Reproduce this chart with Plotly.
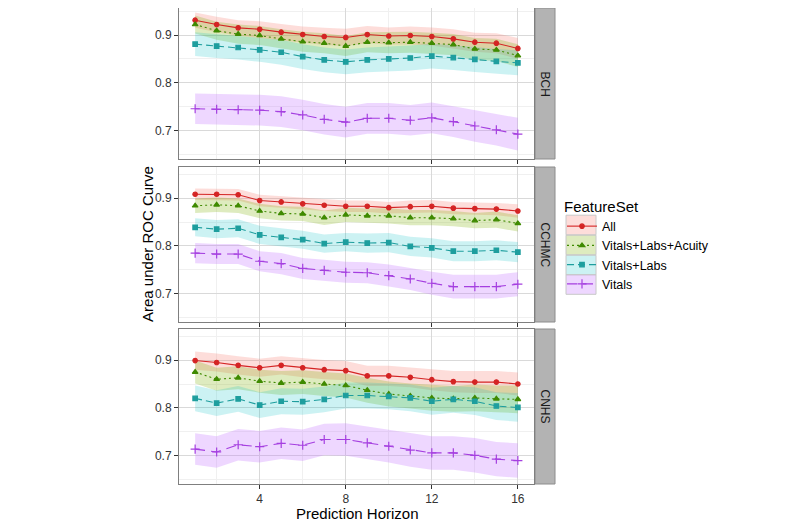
import plotly.graph_objects as go

x = list(range(1, 17))
facets = ["BCH", "CCHMC", "CNHS"]
series = ["All", "Vitals+Labs+Acuity", "Vitals+Labs", "Vitals"]

# ---- BCH ----
bch_all = [0.931, 0.922, 0.915, 0.912, 0.906, 0.901, 0.897, 0.895, 0.901, 0.898, 0.899, 0.897, 0.892, 0.885, 0.883, 0.872]
bch_vla = [0.922, 0.909, 0.902, 0.899, 0.892, 0.886, 0.883, 0.877, 0.885, 0.884, 0.885, 0.883, 0.880, 0.871, 0.869, 0.857]
bch_vl = [0.881, 0.877, 0.874, 0.869, 0.864, 0.855, 0.848, 0.844, 0.848, 0.850, 0.852, 0.856, 0.853, 0.849, 0.845, 0.842]
bch_v = [0.746, 0.745, 0.744, 0.743, 0.740, 0.733, 0.724, 0.718, 0.726, 0.726, 0.722, 0.727, 0.719, 0.710, 0.702, 0.693]
bch_all_hw = [0.016, 0.016, 0.016, 0.017, 0.017, 0.017, 0.018, 0.018, 0.018, 0.018, 0.019, 0.019, 0.020, 0.020, 0.021, 0.022]
bch_vla_hw = [0.019, 0.019, 0.020, 0.020, 0.020, 0.021, 0.021, 0.021, 0.021, 0.022, 0.022, 0.022, 0.022, 0.023, 0.023, 0.024]
bch_vl_hw = [0.025, 0.025, 0.025, 0.025, 0.026, 0.026, 0.026, 0.026, 0.026, 0.026, 0.026, 0.026, 0.026, 0.026, 0.026, 0.026]
bch_v_hw = [0.032, 0.032, 0.032, 0.032, 0.032, 0.032, 0.032, 0.032, 0.032, 0.032, 0.032, 0.032, 0.032, 0.033, 0.033, 0.034]

# ---- CCHMC ----
cch_all = [0.908, 0.908, 0.907, 0.895, 0.892, 0.888, 0.885, 0.883, 0.883, 0.880, 0.882, 0.883, 0.879, 0.878, 0.877, 0.873]
cch_vla = [0.884, 0.886, 0.884, 0.873, 0.868, 0.867, 0.859, 0.865, 0.863, 0.863, 0.859, 0.859, 0.857, 0.853, 0.855, 0.847]
cch_vl = [0.839, 0.835, 0.837, 0.823, 0.818, 0.813, 0.805, 0.808, 0.806, 0.807, 0.799, 0.796, 0.789, 0.789, 0.791, 0.787]
cch_v = [0.785, 0.783, 0.783, 0.768, 0.763, 0.753, 0.749, 0.745, 0.744, 0.738, 0.731, 0.722, 0.715, 0.715, 0.715, 0.720]
cch_all_hw = [0.012, 0.012, 0.012, 0.012, 0.012, 0.012, 0.012, 0.012, 0.012, 0.012, 0.013, 0.013, 0.013, 0.013, 0.013, 0.014]
cch_vla_hw = [0.015, 0.015, 0.015, 0.015, 0.015, 0.015, 0.015, 0.015, 0.015, 0.016, 0.016, 0.016, 0.016, 0.016, 0.017, 0.017]
cch_vl_hw = [0.019, 0.019, 0.019, 0.019, 0.019, 0.019, 0.019, 0.019, 0.020, 0.020, 0.020, 0.020, 0.021, 0.021, 0.021, 0.021]
cch_v_hw = [0.021, 0.021, 0.021, 0.021, 0.022, 0.022, 0.022, 0.022, 0.022, 0.023, 0.023, 0.024, 0.025, 0.025, 0.025, 0.025]

# ---- CNHS ----
cnh_all = [0.899, 0.895, 0.889, 0.884, 0.889, 0.884, 0.880, 0.878, 0.867, 0.867, 0.864, 0.859, 0.855, 0.854, 0.854, 0.850]
cnh_vla = [0.875, 0.860, 0.863, 0.856, 0.852, 0.854, 0.850, 0.847, 0.837, 0.829, 0.825, 0.821, 0.819, 0.821, 0.819, 0.818]
cnh_vl = [0.820, 0.810, 0.819, 0.806, 0.814, 0.813, 0.818, 0.826, 0.826, 0.824, 0.821, 0.814, 0.818, 0.814, 0.804, 0.801]
cnh_v = [0.714, 0.708, 0.723, 0.719, 0.726, 0.722, 0.734, 0.734, 0.727, 0.720, 0.712, 0.706, 0.706, 0.701, 0.693, 0.690]
cnh_all_hw = [0.019, 0.019, 0.019, 0.019, 0.019, 0.020, 0.020, 0.020, 0.021, 0.021, 0.021, 0.022, 0.022, 0.023, 0.023, 0.024]
cnh_vla_hw = [0.024, 0.024, 0.024, 0.024, 0.025, 0.025, 0.025, 0.025, 0.026, 0.026, 0.026, 0.027, 0.027, 0.028, 0.028, 0.029]
cnh_vl_hw = [0.027, 0.027, 0.027, 0.027, 0.027, 0.027, 0.027, 0.027, 0.027, 0.027, 0.028, 0.028, 0.028, 0.029, 0.029, 0.030]
cnh_v_hw = [0.033, 0.033, 0.033, 0.033, 0.033, 0.033, 0.033, 0.034, 0.034, 0.034, 0.035, 0.035, 0.035, 0.036, 0.036, 0.036]

data = {
    "BCH": [(bch_all, bch_all_hw), (bch_vla, bch_vla_hw), (bch_vl, bch_vl_hw), (bch_v, bch_v_hw)],
    "CCHMC": [(cch_all, cch_all_hw), (cch_vla, cch_vla_hw), (cch_vl, cch_vl_hw), (cch_v, cch_v_hw)],
    "CNHS": [(cnh_all, cnh_all_hw), (cnh_vla, cnh_vla_hw), (cnh_vl, cnh_vl_hw), (cnh_v, cnh_v_hw)],
}

line_colors = ["#D42424", "#3F8A00", "#1E9E9E", "#A53FE0"]
fill_colors = ["rgba(248,118,109,0.25)", "rgba(124,174,0,0.25)", "rgba(0,191,196,0.2)", "rgba(199,124,255,0.3)"]
dashes = ["solid", "2px,3px", "7px,4px", "10px,6px"]
symbols = ["circle", "triangle-up", "square", "cross-thin"]
msizes = [4.5, 5, 4.5, 6.5]

OFF = 8                      # default body margin of the html page
W, H = 800 - OFF, 521 - OFF
# plot area in screen pixels (top limited by page margin)
SL, SR, ST, SB = 179, 534, 8, 484
pw, ph = SR - SL, SB - ST
font = "Liberation Sans, Arial, Helvetica, sans-serif"


def px_x(p):
    return (p - SL) / pw


def px_y(p):
    return (SB - p) / ph


panels_px = [(ST, 159), (167, 322), (329, 484)]
y_ranges = [[0.641, 0.9565], [0.641, 0.965], [0.641, 0.965]]

fig = go.Figure()
for fi, fac in enumerate(facets):
    xa = "x" if fi == 0 else f"x{fi+1}"
    ya = "y" if fi == 0 else f"y{fi+1}"
    for si, s in enumerate(series):
        m, hw = data[fac][si]
        up = [a + b for a, b in zip(m, hw)]
        lo = [a - b for a, b in zip(m, hw)]
        fig.add_trace(go.Scatter(
            x=x + x[::-1], y=up + lo[::-1], fill="toself", fillcolor=fill_colors[si],
            line=dict(width=0), mode="lines", hoverinfo="skip", showlegend=False,
            xaxis=xa, yaxis=ya))
    for si, s in enumerate(series):
        m, hw = data[fac][si]
        fig.add_trace(go.Scatter(
            x=x, y=m, mode="lines+markers", name=s, legendgroup=s,
            showlegend=(fi == 0),
            line=dict(color=line_colors[si], width=1.1, dash=dashes[si]),
            marker=dict(symbol=symbols[si], size=msizes[si], color=line_colors[si],
                        line=dict(width=1.2, color=line_colors[si])),
            xaxis=xa, yaxis=ya))

grid_major = "#D9D9D9"
grid_minor = "#F0F0F0"
axis_common = dict(showline=True, mirror=True, linecolor="#7F7F7F", linewidth=1,
                   ticks="outside", ticklen=4, tickcolor="#333333", zeroline=False,
                   automargin=False,
                   tickfont=dict(family=font, size=12, color="#333333"),
                   gridcolor=grid_major, gridwidth=1)

layout = dict(width=W, height=H,
              margin=dict(l=SL - OFF, r=W - (SR - OFF), t=ST - OFF, b=H - (SB - OFF), autoexpand=False),
              plot_bgcolor="white", paper_bgcolor="white",
              font=dict(family=font, color="#000000"))
shapes = []
annotations = []
for fi, fac in enumerate(facets):
    top, bot = panels_px[fi]
    yd = [px_y(bot), px_y(top)]
    xk = "xaxis" if fi == 0 else f"xaxis{fi+1}"
    yk = "yaxis" if fi == 0 else f"yaxis{fi+1}"
    layout[xk] = dict(axis_common, domain=[0, 1], range=[0.25, 16.75], tick0=0, dtick=4,
                      showticklabels=(fi == 2),
                      minor=dict(tick0=0, dtick=2, showgrid=True, gridcolor=grid_minor, ticks=""),
                      anchor="y" if fi == 0 else f"y{fi+1}")
    if fi != 0:
        layout[xk]["matches"] = "x"
    layout[yk] = dict(axis_common, domain=yd, range=y_ranges[fi], tick0=0, dtick=0.1,
                      tickformat=".1f",
                      minor=dict(tick0=0, dtick=0.05, showgrid=True, gridcolor=grid_minor, ticks=""),
                      anchor="x" if fi == 0 else f"x{fi+1}")
    shapes.append(dict(type="rect", xref="paper", yref="paper",
                       x0=px_x(535), x1=px_x(555), y0=yd[0], y1=yd[1],
                       fillcolor="#B3B3B3", line=dict(color="#8C8C8C", width=1), layer="below"))
    annotations.append(dict(text=fac, xref="paper", yref="paper", x=px_x(545), y=(yd[0] + yd[1]) / 2,
                            showarrow=False, textangle=90, font=dict(family=font, size=12, color="#1A1A1A"),
                            xanchor="center", yanchor="middle"))

annotations.append(dict(text="Prediction Horizon", xref="paper", yref="paper", x=px_x(357), y=px_y(513),
                        showarrow=False, font=dict(family=font, size=15, color="#000"),
                        xanchor="center", yanchor="middle"))
annotations.append(dict(text="Area under ROC Curve", xref="paper", yref="paper", x=px_x(147), y=px_y(244),
                        showarrow=False, textangle=-90, font=dict(family=font, size=15, color="#000"),
                        xanchor="center", yanchor="middle"))

# legend key backgrounds (screen pixel rows of legend items)
key_rows = [225, 245, 265, 284.5]
for si, yy in enumerate(key_rows):
    shapes.append(dict(type="rect", xref="paper", yref="paper",
                       x0=px_x(566), x1=px_x(596), y0=px_y(yy + 9.8), y1=px_y(yy - 9.8),
                       fillcolor=fill_colors[si], line=dict(color="#C8C8C8", width=1), layer="below"))

layout["shapes"] = shapes
layout["annotations"] = annotations
layout["legend"] = dict(x=px_x(562), y=px_y(192), xanchor="left", yanchor="top",
                        title=dict(text="FeatureSet", font=dict(family=font, size=15)),
                        font=dict(family=font, size=12.5, color="#000"),
                        bgcolor="rgba(0,0,0,0)", tracegroupgap=0, itemwidth=30)
fig.update_layout(**layout)
fig.write_html("out.html")
